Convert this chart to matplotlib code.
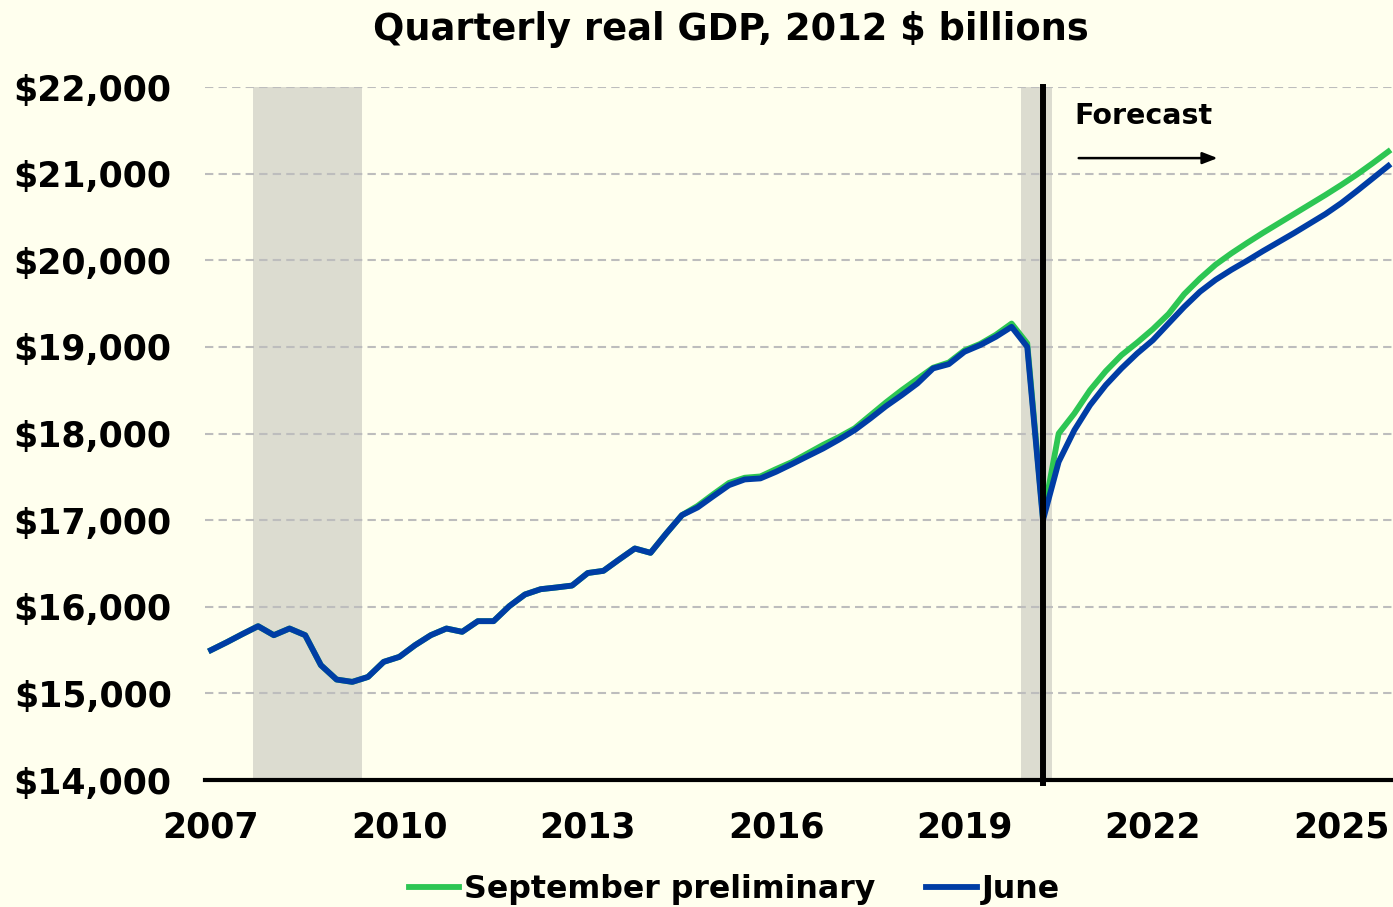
import numpy as np
import matplotlib.pyplot as plt

# quarterly real GDP, 2007Q1 .. 2025Q4 (2012 $ billions)
june = [15500, 15590, 15685, 15776, 15672, 15749, 15672, 15326, 15160, 15133,
        15190, 15364, 15422, 15557, 15672, 15749, 15711, 15834, 15834, 16007,
        16142, 16203, 16223, 16245, 16390, 16415, 16546, 16673, 16623, 16846,
        17058, 17147, 17277, 17404, 17470, 17482, 17559, 17647, 17738, 17828,
        17930, 18039, 18174, 18316, 18443, 18578, 18752, 18801, 18944, 19021,
        19117, 19232, 19001, 17000, 17673, 18039, 18328, 18559, 18752, 18925,
        19078, 19271, 19463, 19637, 19775, 19890, 19995, 20105, 20210, 20315,
        20425, 20535, 20660, 20800, 20945, 21090]
september = [15500, 15590, 15685, 15776, 15672, 15749, 15672, 15326, 15160, 15133,
             15190, 15364, 15422, 15557, 15672, 15749, 15711, 15834, 15834, 16007,
             16142, 16203, 16223, 16245, 16390, 16415, 16546, 16673, 16623, 16846,
             17058, 17165, 17300, 17430, 17490, 17505, 17590, 17670, 17770, 17870,
             17960, 18060, 18210, 18360, 18500, 18630, 18760, 18820, 18960, 19035,
             19140, 19270, 19040, 17030, 18000, 18232, 18501, 18720, 18905, 19050,
             19205, 19380, 19610, 19790, 19950, 20080, 20200, 20315, 20425, 20535,
             20645, 20755, 20870, 20990, 21120, 21255]
year_labels = ['2007', '2010', '2013', '2016', '2019', '2022', '2025']
y_ticks = [14000, 15000, 16000, 17000, 18000, 19000, 20000, 21000, 22000]
recessions = [(2.7, 9.6), (51.6, 53.6)]  # in quarter index units
forecast_start = 53

bg = '#FFFFEE'
q = np.arange(len(june))

fig = plt.figure(figsize=(13.93, 9.07), dpi=100, facecolor=bg)
ax = fig.add_axes([0.1472, 0.14, 0.8528, 0.764], facecolor=bg)

for a, b in recessions:
    ax.axvspan(a, b, color='#DCDCD0', zorder=0, lw=0)

for v in y_ticks[1:]:
    ax.axhline(v, color='#BDBDBD', lw=1.5, ls=(0, (4, 2.5)), zorder=1)

ax.plot(q, september, color='#2DC653', lw=4.2, label='September preliminary', zorder=3)
ax.plot(q, june, color='#003DA5', lw=4.2, label='June', zorder=4)

ax.axvline(forecast_start, ymin=-0.005, color='black', lw=4.3, zorder=5, clip_on=False)

ax.text(55.0, 21670, 'Forecast', fontsize=20.5, fontweight='bold', ha='left', va='center')
ax.annotate('', xy=(64.3, 21180), xytext=(55.1, 21180),
            arrowprops=dict(arrowstyle='-|>,head_length=0.9,head_width=0.35', color='black', lw=1.8))

ax.set_xlim(-0.38, 75.3)
ax.set_ylim(14000, 22000)
ax.set_xticks(np.arange(0, 76, 12))
ax.set_xticklabels(year_labels)
ax.set_yticks(y_ticks)
ax.set_yticklabels(['${:,}'.format(v) for v in y_ticks])
ax.tick_params(length=0, labelsize=25)
ax.tick_params(axis='x', pad=22)
ax.tick_params(axis='y', pad=24)
for lab in ax.get_xticklabels() + ax.get_yticklabels():
    lab.set_fontweight('bold')

for s in ['top', 'right', 'left']:
    ax.spines[s].set_visible(False)
ax.spines['bottom'].set_linewidth(3)
ax.spines['bottom'].set_zorder(6)

fig.text(0.525, 0.968, 'Quarterly real GDP, 2012 $ billions', ha='center', va='center',
         fontsize=26.5, fontweight='bold')

leg = fig.legend(loc='center', bbox_to_anchor=(0.527, 0.019), ncol=2, frameon=False,
                 prop={'size': 22.8, 'weight': 'bold'}, handlelength=1.6, handletextpad=0.15,
                 columnspacing=1.6, borderpad=0)

fig.savefig('out.png', dpi=100, facecolor=bg)
